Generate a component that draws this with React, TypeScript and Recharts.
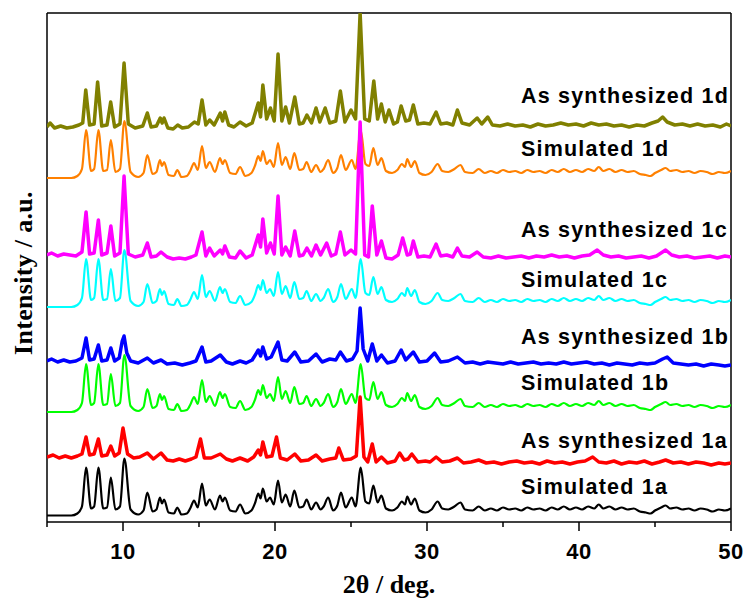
import React from 'react'
import { LineChart, Line, XAxis, YAxis, ReferenceLine } from 'recharts'

// 2θ (deg) vs intensity (a.u.) for each trace; intensities are above the trace's own baseline
const simulated: [number, number][] = [
  [5, 0], [6.6, 0], [7.0, 2], [7.3, 9], [7.57, 48], [7.9, 7], [8.1, 9], [8.38, 48], [8.7, 7], [8.95, 8],
  [9.2, 38], [9.5, 6], [9.8, 9], [10.09, 57], [10.5, 6], [11.0, 1], [11.35, 5], [11.6, 23], [11.95, 4],
  [12.2, 6], [12.43, 18], [12.57, 12], [12.7, 16], [13.0, 3], [13.35, 2], [13.57, 8], [13.85, 1], [14.2, 2],
  [14.45, 8], [14.67, 15], [14.92, 8], [15.2, 32], [15.45, 10], [15.7, 16], [16.05, 6], [16.38, 20],
  [16.55, 14], [16.7, 18], [17.05, 5], [17.4, 4], [17.7, 11], [18.05, 2], [18.45, 5], [18.7, 13], [18.9, 22],
  [19.05, 17], [19.2, 27], [19.45, 14], [19.67, 18], [19.92, 11], [20.2, 35], [20.45, 13], [20.7, 21],
  [21.0, 9], [21.27, 25], [21.6, 8], [21.85, 9], [22.08, 16], [22.38, 6], [22.7, 13], [23.0, 6], [23.2, 9],
  [23.5, 18], [23.82, 5], [24.1, 10], [24.34, 23], [24.65, 8], [25.05, 18], [25.3, 9], [25.64, 48],
  [25.95, 14], [26.2, 12], [26.47, 30], [26.75, 13], [27.0, 20], [27.3, 7], [27.7, 5], [28.05, 8],
  [28.35, 14], [28.55, 11], [28.7, 19], [28.95, 11], [29.2, 17], [29.5, 5], [29.9, 3], [30.3, 6], [30.7, 14],
  [31.0, 7], [31.4, 6], [31.8, 9], [32.2, 13], [32.5, 6], [33.0, 5], [33.4, 9], [33.8, 5], [34.2, 7],
  [34.6, 5], [35.0, 8], [35.4, 6], [35.8, 7], [36.2, 5], [36.6, 8], [37.0, 6], [37.4, 7], [37.8, 5],
  [38.2, 8], [38.6, 6], [39.0, 9], [39.4, 6], [39.8, 8], [40.2, 6], [40.6, 9], [41.0, 7], [41.3, 11],
  [41.6, 7], [42.0, 9], [42.4, 6], [42.8, 8], [43.2, 6], [43.6, 7], [44.0, 4], [44.4, 3], [44.7, 2],
  [45.0, 5], [45.4, 8], [45.7, 10], [46.0, 7], [46.4, 8], [46.8, 6], [47.2, 7], [47.6, 5], [48.0, 7],
  [48.4, 6], [48.8, 4], [49.2, 6], [49.6, 5], [50, 7],
]

const asSynth1a: [number, number][] = [
  [5, 0], [5.4, 2], [5.8, -1], [6.2, 1], [6.6, -1], [7.0, 1], [7.3, 3], [7.57, 20], [7.8, 2], [8.1, 3],
  [8.38, 18], [8.6, 1], [8.95, 2], [9.2, 11], [9.45, 1], [9.75, 4], [10.0, 29], [10.3, 3], [10.7, -1],
  [11.1, 0], [11.6, 4], [12.0, -2], [12.5, 4], [12.9, -3], [13.3, -4], [13.7, -2], [14.1, -4], [14.5, -2],
  [14.8, 0], [15.1, 18], [15.35, -1], [15.8, -1], [16.4, 3], [16.8, -2], [17.2, -4], [17.7, -1], [18.2, -4],
  [18.6, 0], [18.9, 7], [19.05, 2], [19.2, 15], [19.45, 0], [19.8, 1], [20.1, 20], [20.35, -1], [20.8, -3],
  [21.3, 3], [21.7, -4], [22.2, -3], [22.7, 2], [23.1, -4], [23.6, -2], [24.0, -1], [24.2, 9], [24.5, -3],
  [25.0, -2], [25.35, 1], [25.6, 60], [25.85, 0], [26.1, -5], [26.4, 13], [26.65, -5], [27.0, 0],
  [27.4, -6], [27.9, -4], [28.2, 4], [28.5, -3], [28.75, -2], [29.0, 3], [29.4, -5], [29.9, -4], [30.2, -5],
  [30.6, 0], [31.0, -5], [31.5, -4], [32.0, -1], [32.4, -6], [32.9, -5], [33.4, -3], [33.9, -6], [34.4, -5],
  [34.9, -7], [35.4, -5], [35.9, -4], [36.4, -6], [36.9, -5], [37.4, -7], [37.9, -4], [38.4, -6],
  [38.9, -5], [39.4, -7], [39.9, -5], [40.4, -4], [40.9, 0], [41.3, -5], [41.8, -6], [42.3, -4], [42.8, -7],
  [43.3, -5], [43.8, -6], [44.3, -4], [44.8, -7], [45.3, -5], [45.7, -3], [46.2, -6], [46.7, -5],
  [47.2, -7], [47.7, -5], [48.2, -6], [48.7, -8], [49.2, -6], [49.6, -7], [50, -6],
]

const asSynth1b: [number, number][] = [
  [5, 0], [5.3, 2], [5.7, -1], [6.1, 1], [6.5, -1], [6.9, 0], [7.3, 3], [7.57, 23], [7.8, 1], [8.1, 2],
  [8.38, 16], [8.6, 0], [8.95, 1], [9.2, 13], [9.45, 0], [9.75, 3], [9.95, 20], [10.07, 25], [10.25, 8],
  [10.5, 0], [11.0, -2], [11.6, 3], [12.0, -2], [12.5, 1], [12.9, -3], [13.4, -2], [13.9, -4], [14.4, -2],
  [14.8, 0], [15.2, 14], [15.45, -1], [15.8, 0], [16.4, 6], [16.8, -1], [17.2, -3], [17.7, 0], [18.1, -2],
  [18.5, 1], [18.9, 11], [19.05, 5], [19.2, 14], [19.45, 2], [19.75, 4], [20.2, 19], [20.45, 1], [20.8, 0],
  [21.3, 9], [21.7, -1], [22.2, 0], [22.7, 7], [23.1, -1], [23.6, 2], [24.0, 1], [24.3, 9], [24.7, 0],
  [25.1, 2], [25.4, 10], [25.6, 53], [25.8, 12], [26.1, 0], [26.4, 17], [26.7, 0], [27.0, 6], [27.4, -2],
  [27.9, 0], [28.3, 11], [28.6, 1], [29.1, 9], [29.5, -1], [30.0, 0], [30.5, 8], [30.9, -1], [31.4, 0],
  [32.0, 4], [32.5, -2], [33.0, -1], [33.5, -3], [34.0, -1], [34.5, -2], [35.0, -3], [35.5, -1],
  [36.0, -3], [36.5, -2], [37.0, -1], [37.5, -3], [38.0, -2], [38.5, -3], [39.0, -1], [39.5, -3],
  [40.0, -2], [40.5, -1], [41.0, -3], [41.5, -2], [42.0, -4], [42.5, -2], [43.0, -3], [43.5, -4],
  [44.0, -2], [44.5, -3], [45.0, -2], [45.5, 2], [45.8, 4], [46.2, -2], [46.7, -3], [47.2, -4], [47.7, -3],
  [48.2, -5], [48.7, -3], [49.2, -4], [49.6, -5], [50, -4],
]

const asSynth1c: [number, number][] = [
  [5, 0], [5.3, 2], [5.7, -1], [6.1, 1], [6.5, 0], [6.9, -1], [7.3, 3], [7.57, 43], [7.8, 1], [8.1, 2],
  [8.38, 35], [8.6, 0], [8.95, 2], [9.2, 29], [9.45, -1], [9.8, 2], [10.07, 79], [10.35, 1], [10.8, -2],
  [11.3, 0], [11.6, 12], [11.85, -2], [12.2, -1], [12.5, 3], [12.9, -2], [13.3, -4], [13.7, -3], [14.1, -4],
  [14.5, -2], [14.8, 0], [15.2, 23], [15.45, -1], [15.7, 7], [16.0, -1], [16.4, 5], [16.55, 1], [16.7, 9],
  [17.0, -2], [17.4, -3], [17.7, 4], [18.1, -3], [18.5, 0], [18.9, 20], [19.05, 8], [19.2, 36], [19.45, 2],
  [19.7, 12], [19.95, 1], [20.2, 59], [20.45, 0], [20.7, 8], [21.0, -1], [21.3, 24], [21.6, -1], [21.85, 0],
  [22.1, 7], [22.4, -1], [22.7, 10], [23.0, 0], [23.4, 12], [23.7, -1], [24.0, 1], [24.3, 23], [24.6, 0],
  [25.0, 5], [25.3, 1], [25.6, 133], [25.9, 0], [26.15, -2], [26.4, 49], [26.7, 0], [27.0, 14], [27.3, -3],
  [27.7, -4], [28.1, 0], [28.4, 17], [28.7, 0], [28.9, 1], [29.1, 14], [29.4, -2], [29.8, -1], [30.2, -2],
  [30.6, 11], [30.9, -1], [31.3, 0], [31.7, -2], [32.0, 7], [32.3, -1], [32.8, -2], [33.3, 3], [33.7, -2],
  [34.2, -3], [34.7, -1], [35.2, -3], [35.7, -2], [36.2, -1], [36.7, -3], [37.2, -1], [37.7, -2], [38.2, 0],
  [38.7, -2], [39.2, -1], [39.7, -3], [40.2, -1], [40.7, 0], [41.2, 5], [41.6, 0], [42.1, -2], [42.6, -1],
  [43.1, -3], [43.6, -2], [44.1, -1], [44.6, -3], [45.1, -1], [45.7, 5], [46.1, 0], [46.6, -2], [47.1, -1],
  [47.6, -3], [48.1, -2], [48.6, -1], [49.1, -3], [49.6, -1], [50, -2],
]

const asSynth1d: [number, number][] = [
  [5, 0], [5.2, 4], [5.5, -1], [5.9, 1], [6.3, -1], [6.7, 0], [7.1, 2], [7.35, 4], [7.55, 37], [7.8, 2],
  [8.1, 3], [8.33, 45], [8.6, 1], [8.95, 2], [9.19, 25], [9.45, 0], [9.8, 3], [10.07, 64], [10.35, 3],
  [10.8, -1], [11.3, 1], [11.6, 14], [11.85, 0], [12.2, 1], [12.45, 9], [12.58, 4], [12.7, 9], [12.95, -1],
  [13.3, -2], [13.6, 2], [13.9, -1], [14.3, 0], [14.7, 5], [14.95, 3], [15.2, 27], [15.45, 2], [15.7, 7],
  [16.0, 2], [16.4, 14], [16.55, 6], [16.7, 15], [16.95, 2], [17.3, 0], [17.7, 5], [18.1, 1], [18.5, 4],
  [18.9, 24], [19.05, 10], [19.2, 42], [19.45, 8], [19.7, 19], [19.95, 6], [20.2, 73], [20.45, 6],
  [20.7, 20], [20.95, 4], [21.3, 30], [21.6, 3], [21.85, 4], [22.1, 12], [22.4, 4], [22.7, 19], [22.95, 5],
  [23.3, 19], [23.6, 4], [24.0, 6], [24.3, 36], [24.6, 5], [25.0, 17], [25.3, 8], [25.6, 114], [25.9, 8],
  [26.2, 6], [26.5, 46], [26.75, 8], [27.0, 23], [27.25, 5], [27.5, 17], [27.8, 3], [28.05, 5], [28.3, 21],
  [28.6, 6], [28.85, 7], [29.1, 22], [29.4, 3], [29.8, 4], [30.2, 3], [30.6, 15], [30.9, 3], [31.3, 4],
  [31.7, 2], [32.0, 17], [32.3, 4], [32.8, 2], [33.3, 9], [33.6, 3], [34.0, 10], [34.3, 2], [34.8, 1],
  [35.3, 3], [35.8, 1], [36.3, 2], [36.8, 0], [37.3, 3], [37.8, 1], [38.3, 2], [38.8, 4], [39.3, 2],
  [39.8, 3], [40.3, 1], [40.8, 4], [41.3, 2], [41.8, 3], [42.3, 1], [42.8, 2], [43.3, 0], [43.8, 2],
  [44.3, 1], [44.8, 4], [45.2, 6], [45.5, 10], [45.8, 5], [46.3, 2], [46.8, 3], [47.3, 1], [47.8, 3],
  [48.3, 1], [48.8, 2], [49.3, 0], [49.7, 3], [50, 1],
]

// vertical stacking offsets (a.u.)
const offsetSim1a = 6.5
const offsetAs1a = 65
const offsetSim1b = 110
const offsetAs1b = 161
const offsetSim1c = 215
const offsetAs1c = 267
const offsetSim1d = 344
const offsetAs1d = 395

const xTicks = [5, 10, 15, 20, 25, 30, 35, 40, 45, 50]

const shift = (pts: [number, number][], off: number) => pts.map(([t, v]) => ({ t, v: v + off }))

const traces = [
  { key: 'sim1d', data: shift(simulated, offsetSim1d), color: '#FF8000', width: 2.2, type: 'monotone' },
  { key: 'as1d', data: shift(asSynth1d, offsetAs1d), color: '#808000', width: 3.5, type: 'linear' },
  { key: 'sim1c', data: shift(simulated, offsetSim1c), color: '#00FFFF', width: 2.2, type: 'monotone' },
  { key: 'as1c', data: shift(asSynth1c, offsetAs1c), color: '#FF00FF', width: 3.5, type: 'linear' },
  { key: 'sim1b', data: shift(simulated, offsetSim1b), color: '#00FF00', width: 2.2, type: 'monotone' },
  { key: 'as1b', data: shift(asSynth1b, offsetAs1b), color: '#0000FF', width: 3.5, type: 'linear' },
  { key: 'sim1a', data: shift(simulated, offsetSim1a), color: '#000000', width: 2.2, type: 'monotone' },
  { key: 'as1a', data: shift(asSynth1a, offsetAs1a), color: '#FF0000', width: 3.5, type: 'linear' },
]

const labels = [
  { text: 'As synthesized 1d', cy: 97 },
  { text: 'Simulated 1d', cy: 150 },
  { text: 'As synthesized 1c', cy: 231 },
  { text: 'Simulated 1c', cy: 281 },
  { text: 'As synthesized 1b', cy: 338 },
  { text: 'Simulated 1b', cy: 384 },
  { text: 'As synthesized 1a', cy: 442 },
  { text: 'Simulated 1a', cy: 488 },
]

const XTick = (props: any) => {
  const { x, y, payload } = props
  const major = payload.value % 10 === 0
  return (
    <g>
      <line x1={x} x2={x} y1={y} y2={y + (major ? 9 : 5)} stroke="#000" strokeWidth={1.5} />
      {major && (
        <text x={x} y={y + 37} textAnchor="middle" fontFamily="'Liberation Sans', Arial, sans-serif"
          fontWeight="bold" fontSize={22} letterSpacing={0.5} fill="#000">
          {payload.value}
        </text>
      )}
    </g>
  )
}

const labelFont = "'Liberation Sans', Arial, sans-serif"
const serif = "'Liberation Serif', 'Times New Roman', serif"

export default function App() {
  return (
    <div style={{ position: 'absolute', left: 0, top: 0, width: 748, height: 601, background: '#fff' }}>
      <LineChart width={748} height={601} margin={{ top: 13, right: 17, bottom: 19, left: 47 }}>
        <XAxis dataKey="t" type="number" domain={[5, 50]} ticks={xTicks} allowDataOverflow
          height={60} tickSize={0} tickMargin={0} tick={<XTick />} interval={0}
          axisLine={{ stroke: '#000', strokeWidth: 1.5 }} />
        <YAxis type="number" domain={[0, 509]} hide allowDataOverflow />
        <ReferenceLine y={509} stroke="#000" strokeWidth={1.5} />
        <ReferenceLine x={5} stroke="#000" strokeWidth={1.5} />
        <ReferenceLine x={50} stroke="#000" strokeWidth={1.5} />
        {traces.map(tr => (
          <Line key={tr.key} data={tr.data} dataKey="v" type={tr.type as any} stroke={tr.color}
            strokeWidth={tr.width} dot={false} isAnimationActive={false} strokeLinejoin="round" />
        ))}
      </LineChart>
      {labels.map(l => (
        <div key={l.text} style={{ position: 'absolute', left: 521, top: l.cy - 0.49 * 21.5,
          fontFamily: labelFont, fontWeight: 'bold', fontSize: 21.5, lineHeight: '21.5px',
          letterSpacing: 1.2, whiteSpace: 'nowrap', color: '#000' }}>
          {l.text}
        </div>
      ))}
      <div style={{ position: 'absolute', left: 289, width: 200, top: 585 - 0.5065 * 26, textAlign: 'center',
        fontFamily: serif, fontWeight: 'bold', fontSize: 26, lineHeight: '26px', color: '#000' }}>
        2θ / deg.
      </div>
      <div style={{ position: 'absolute', left: 24 - 100, top: 273 - 0.5065 * 26, width: 200, textAlign: 'center',
        transform: 'rotate(-90deg)', fontFamily: serif, fontWeight: 'bold', fontSize: 26, lineHeight: '26px',
        letterSpacing: 0.3, color: '#000', whiteSpace: 'nowrap' }}>
        Intensity / a.u.
      </div>
    </div>
  )
}
